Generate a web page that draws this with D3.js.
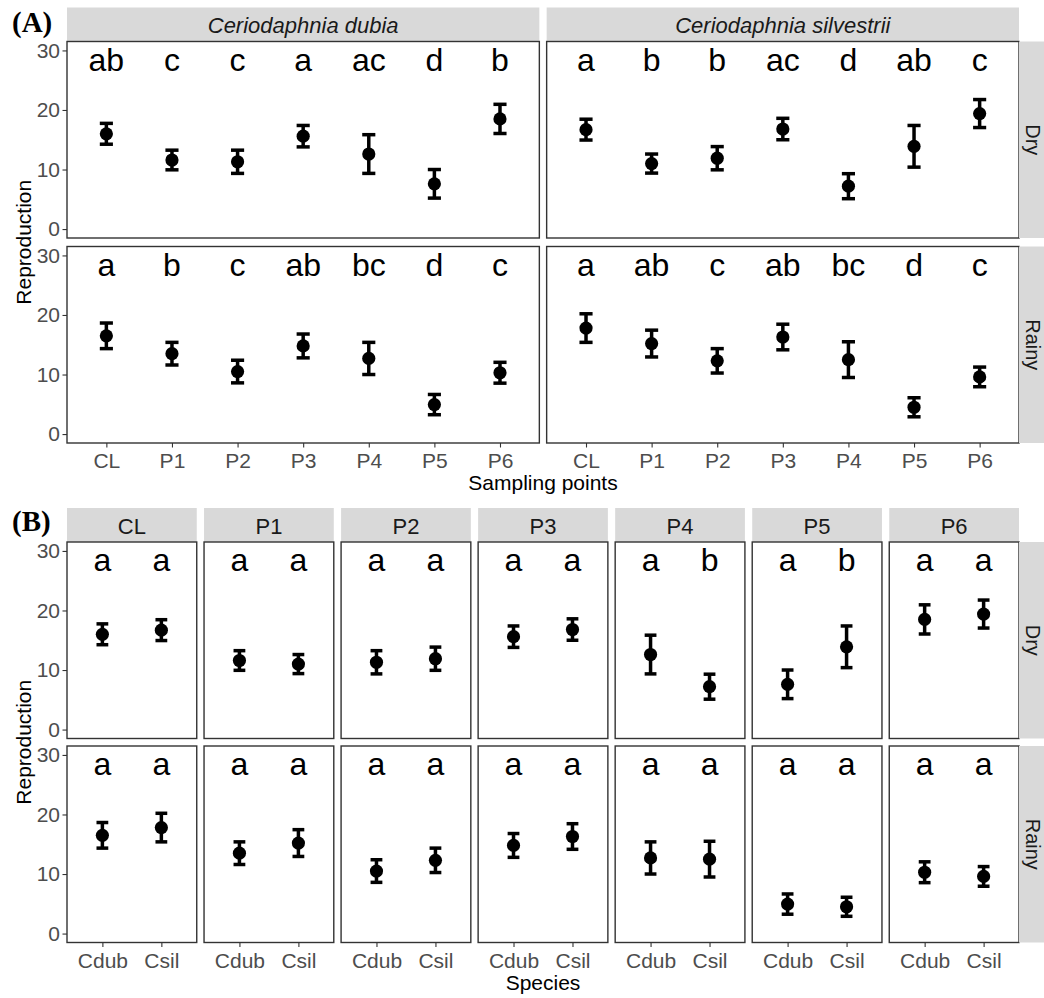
<!DOCTYPE html>
<html>
<head>
<meta charset="utf-8">
<script src="https://cdn.jsdelivr.net/npm/d3@7"></script>
<style>
  body { margin: 0; background: #fff; }
  svg { display: block; font-family: "Liberation Sans", Arial, sans-serif; }
</style>
</head>
<body>
<svg id="chart" width="1044" height="998"></svg>
<script>
// ---- data ----
const sites = ["CL", "P1", "P2", "P3", "P4", "P5", "P6"];
const seasons = ["Dry", "Rainy"];
const speciesCodes = ["Cdub", "Csil"];
const speciesNames = ["Ceriodaphnia dubia", "Ceriodaphnia silvestrii"];

// mean reproduction and error (half bar length) per site
const dubiaDryMean = [16.0, 11.6, 11.3, 15.6, 12.6, 7.6, 18.5];
const dubiaDryErr = [1.75, 1.65, 1.95, 1.8, 3.25, 2.4, 2.45];
const silvDryMean = [16.7, 11.0, 11.9, 16.8, 7.2, 13.9, 19.4];
const silvDryErr = [1.75, 1.6, 1.95, 1.8, 2.1, 3.5, 2.35];
const dubiaRainyMean = [16.5, 13.5, 10.5, 14.8, 12.7, 4.95, 10.3];
const dubiaRainyErr = [2.15, 1.9, 1.9, 2.0, 2.7, 1.7, 1.75];
const silvRainyMean = [17.8, 15.2, 12.3, 16.3, 12.5, 4.5, 9.6];
const silvRainyErr = [2.4, 2.25, 2.05, 2.15, 3.0, 1.6, 1.65];

// significance letters, panel (A): compare sites within species
const lettersDubiaDry = ["ab", "c", "c", "a", "ac", "d", "b"];
const lettersSilvDry = ["a", "b", "b", "ac", "d", "ab", "c"];
const lettersDubiaRainy = ["a", "b", "c", "ab", "bc", "d", "c"];
const lettersSilvRainy = ["a", "ab", "c", "ab", "bc", "d", "c"];
// panel (B): compare species within site
const lettersBDryCdub = ["a", "a", "a", "a", "a", "a", "a"];
const lettersBDryCsil = ["a", "a", "a", "a", "b", "b", "a"];
const lettersBRainyCdub = ["a", "a", "a", "a", "a", "a", "a"];
const lettersBRainyCsil = ["a", "a", "a", "a", "a", "a", "a"];

const yTicks = [0, 10, 20, 30];

const means = { Dry: [dubiaDryMean, silvDryMean], Rainy: [dubiaRainyMean, silvRainyMean] };
const errs = { Dry: [dubiaDryErr, silvDryErr], Rainy: [dubiaRainyErr, silvRainyErr] };
const lettersA = { Dry: [lettersDubiaDry, lettersSilvDry], Rainy: [lettersDubiaRainy, lettersSilvRainy] };
const lettersB = { Dry: [lettersBDryCdub, lettersBDryCsil], Rainy: [lettersBRainyCdub, lettersBRainyCsil] };

// ---- layout ----
const svg = d3.select("#chart");
const left = 67, right = 1019, gap = 7.3;
const stripH = 34, stripW = 25, panelH = 196.5;
const letterY = 26.6;
const font = "'Liberation Sans', Arial, sans-serif";

function drawPanel(g, x0, top, w, cats, rows, showY, showX) {
  const x = d3.scalePoint().domain(cats).range([x0, x0 + w]).padding(0.6);
  const y = d3.scaleLinear().domain([-1.5, 31.5]).range([top + panelH, top]);
  const step = x.step();

  g.append("rect")
    .attr("x", x0).attr("y", top)
    .attr("width", w).attr("height", panelH)
    .attr("fill", "#fff");

  if (showY) {
    const ay = g.append("g")
      .attr("transform", `translate(${x0},0)`)
      .call(d3.axisLeft(y).tickValues(yTicks).tickSize(4.5).tickPadding(2.5));
    ay.select(".domain").remove();
    ay.selectAll("line").attr("stroke", "#333").attr("stroke-width", 1.1);
    ay.selectAll("text").attr("fill", "#4d4d4d").style("font-size", "21px")
      .style("font-family", font);
  }
  if (showX) {
    const ax = g.append("g")
      .attr("transform", `translate(0,${top + panelH})`)
      .call(d3.axisBottom(x).tickSize(4.5).tickPadding(6));
    ax.select(".domain").remove();
    ax.selectAll("line").attr("stroke", "#333").attr("stroke-width", 1.1);
    ax.selectAll("text").attr("fill", "#4d4d4d").style("font-size", "21px")
      .style("font-family", font);
  }

  const bars = g.append("g").selectAll("g").data(rows).enter().append("g");
  bars.append("line")
    .attr("x1", d => x(d.cat)).attr("x2", d => x(d.cat))
    .attr("y1", d => y(d.mean - d.err)).attr("y2", d => y(d.mean + d.err))
    .attr("stroke", "#000").attr("stroke-width", 3.5);
  [-1, 1].forEach(s => {
    bars.append("line")
      .attr("x1", d => x(d.cat) - step * 0.1).attr("x2", d => x(d.cat) + step * 0.1)
      .attr("y1", d => y(d.mean + s * d.err)).attr("y2", d => y(d.mean + s * d.err))
      .attr("stroke", "#000").attr("stroke-width", 3.5);
  });
  bars.append("circle")
    .attr("cx", d => x(d.cat)).attr("cy", d => y(d.mean))
    .attr("r", 6.6).attr("fill", "#000");
  bars.append("text")
    .attr("x", d => x(d.cat)).attr("y", y(letterY))
    .attr("text-anchor", "middle")
    .style("font-size", "32px").attr("fill", "#000")
    .text(d => d.letter);

  g.append("rect")
    .attr("x", x0).attr("y", top)
    .attr("width", w).attr("height", panelH)
    .attr("fill", "none").attr("stroke", "#333").attr("stroke-width", 1.4);
}

function topStrip(g, x0, top, w, label, italic) {
  g.append("rect").attr("x", x0).attr("y", top - stripH)
    .attr("width", w).attr("height", stripH).attr("fill", "#d9d9d9");
  g.append("text").attr("x", x0 + w / 2).attr("y", top - 8.5)
    .attr("text-anchor", "middle")
    .style("font-size", "22px").style("font-style", italic ? "italic" : "normal")
    .attr("fill", "#1a1a1a").text(label);
}

function sideStrip(g, top, label) {
  g.append("rect").attr("x", right).attr("y", top)
    .attr("width", stripW).attr("height", panelH).attr("fill", "#d9d9d9");
  g.append("text")
    .attr("transform", `translate(${right + 6.5},${top + panelH / 2}) rotate(90)`)
    .attr("text-anchor", "middle")
    .style("font-size", "20px").attr("fill", "#1a1a1a").text(label);
}

// ---- (A): species columns, sites on x ----
const gA = svg.append("g");
const rowTopsA = [41.5, 246.5];
const wA = (right - left - gap) / 2;
speciesNames.forEach((name, si) => {
  const x0 = left + si * (wA + gap);
  topStrip(gA, x0, rowTopsA[0], wA, name, true);
  seasons.forEach((season, ri) => {
    const rows = sites.map((s, i) => ({
      cat: s,
      mean: means[season][si][i],
      err: errs[season][si][i],
      letter: lettersA[season][si][i]
    }));
    drawPanel(gA, x0, rowTopsA[ri], wA, sites, rows, si === 0, ri === 1);
  });
});
seasons.forEach((season, ri) => sideStrip(gA, rowTopsA[ri], season));

// ---- (B): site columns, species on x ----
const gB = svg.append("g");
const rowTopsB = [542, 746];
const wB = (right - left - gap * (sites.length - 1)) / sites.length;
sites.forEach((site, ci) => {
  const x0 = left + ci * (wB + gap);
  topStrip(gB, x0, rowTopsB[0], wB, site, false);
  seasons.forEach((season, ri) => {
    const rows = speciesCodes.map((code, si) => ({
      cat: code,
      mean: means[season][si][ci],
      err: errs[season][si][ci],
      letter: lettersB[season][si][ci]
    }));
    drawPanel(gB, x0, rowTopsB[ri], wB, speciesCodes, rows, ci === 0, ri === 1);
  });
});
seasons.forEach((season, ri) => sideStrip(gB, rowTopsB[ri], season));

// ---- titles ----
const midX = (left + right) / 2;
[[rowTopsA, "Sampling points", 490], [rowTopsB, "Species", 990]].forEach(([tops, label, by]) => {
  svg.append("text")
    .attr("transform", `translate(31,${(tops[0] + tops[1] + panelH) / 2}) rotate(-90)`)
    .attr("text-anchor", "middle").style("font-size", "21px").attr("fill", "#000")
    .text("Reproduction");
  svg.append("text").attr("x", midX).attr("y", by)
    .attr("text-anchor", "middle").style("font-size", "21px").attr("fill", "#000")
    .text(label);
});

svg.append("text").attr("x", 12).attr("y", 32)
  .style("font-family", "'Liberation Serif', 'Times New Roman', serif")
  .style("font-weight", "bold").style("font-size", "29px").text("(A)");
svg.append("text").attr("x", 12).attr("y", 531)
  .style("font-family", "'Liberation Serif', 'Times New Roman', serif")
  .style("font-weight", "bold").style("font-size", "29px").text("(B)");
</script>
</body>
</html>
